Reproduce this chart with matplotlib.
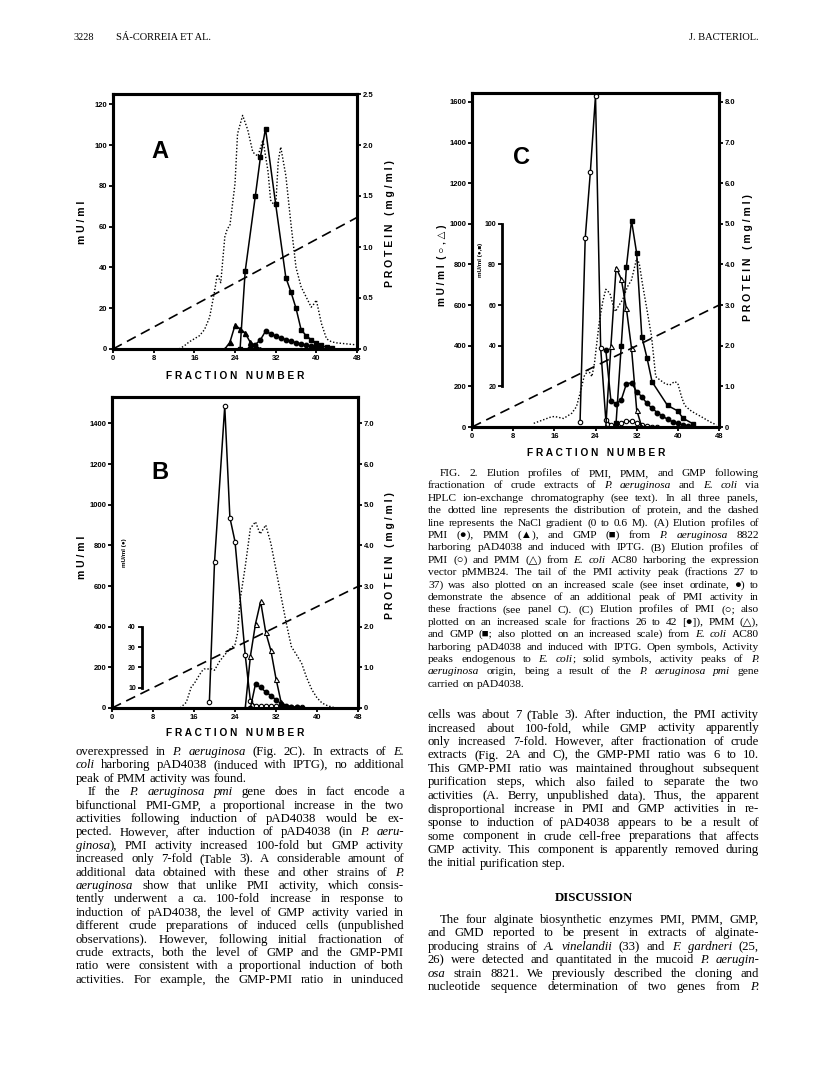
import matplotlib
matplotlib.use("Agg")
import matplotlib.pyplot as plt

W, H = 816, 1078
SANS = ["Liberation Sans", "DejaVu Sans"]
SERIF = ["Liberation Serif", "DejaVu Serif", "DejaVu Sans"]

# ---- panel A : P. aeruginosa 8822 / pAD4038 ----
a_gmp_frac = [25, 26, 28, 29, 30, 32, 34, 35, 36, 37, 38, 39, 40, 41, 42, 43]
a_gmp = [0, 38, 75, 94, 108, 71, 35, 28, 20, 9.5, 6.5, 4.5, 3, 1.8, 0.8, 0.3]
a_pmi_frac = [27, 28, 29, 30, 31, 32, 33, 34, 35, 36, 37, 38, 39, 40, 41]
a_pmi = [0.5, 2.1, 4.5, 8.7, 7.4, 6.4, 5.4, 4.6, 3.8, 3.1, 2.5, 1.8, 1.3, 0.8, 0.3]
a_pmm_frac = [22, 23, 24, 25, 26, 27, 28, 29]
a_pmm = [0, 3.3, 11.6, 9.9, 7.8, 3.3, 1.7, 0]
a_prot_frac = [13, 14, 15, 16, 17, 18, 19, 20, 20.5, 21.2, 22, 22.5, 23, 24, 24.5, 25.5,
               26.5, 27.5, 28.5, 29.5, 30.5, 31, 32, 32.5, 33, 34, 35, 36, 37, 38, 39,
               39.5, 40, 41, 42, 43, 44, 46, 48]
a_prot = [0, 0.03, 0.07, 0.10, 0.13, 0.19, 0.31, 0.57, 0.73, 0.65, 1.10, 1.18, 1.21, 1.62,
          2.11, 2.29, 2.15, 1.93, 1.89, 2.05, 1.74, 1.46, 1.39, 1.84, 1.98, 1.70, 1.23, 0.80,
          0.61, 0.51, 0.41, 0.44, 0.48, 0.25, 0.10, 0.07, 0.06, 0.05, 0.04]
a_grad = [0, 1.29]

# ---- panel B : E. coli AC80 / pMMB24 ----
b_pmi_frac = [19, 20, 22, 23, 24, 26, 27, 28, 29, 30, 31, 32, 33, 34, 35, 36, 37]
b_pmi = [30, 716, 1485, 937, 819, 259, 36, 8, 8, 8, 8, 8, 8, 6, 5, 4, 3]
b_pmm_frac = [26, 27, 28, 29, 30, 31, 32, 33, 34, 35]
b_pmm = [0, 254, 414, 524, 372, 283, 144, 28, 10, 5]
b_pmi10_frac = [27, 28, 29, 30, 31, 32, 33, 34, 35, 36, 37]
b_pmi10 = [0, 118, 101, 79, 61, 40, 22, 12, 6, 3, 1]
b_prot_frac = [13.3, 14.5, 15.5, 16, 16.7, 17.5, 18, 19.5, 20, 21, 22, 23, 24, 24.5, 25, 26,
               27, 28, 28.9, 30, 31, 32, 33, 34, 35, 36, 37, 38, 39, 40, 41, 42, 43, 44]
b_prot = [0, 0.14, 0.53, 0.59, 0.74, 0.90, 0.96, 0.96, 0.93, 1.15, 1.31, 1.45, 1.56, 1.84,
          2.66, 3.48, 4.42, 4.58, 4.28, 4.50, 4.05, 3.40, 2.74, 2.09, 1.51, 1.31, 1.10, 0.74,
          0.45, 0.25, 0.12, 0.06, 0.02, 0]
b_grad = [0, 2.99]

# ---- panel C : E. coli AC80 / pAD4038 ----
c_pmi_frac = [21, 22, 23, 24, 25, 26, 27, 28, 29, 30, 31, 32, 33, 34, 35, 36]
c_pmi = [26, 929, 1255, 1631, 391, 35, 10, 8, 20, 28, 28, 20, 8, 4, 2, 0]
c_pmm_frac = [26, 27, 28, 29, 30, 31, 32, 33]
c_pmm = [0, 400, 784, 729, 584, 387, 84, 0]
c_gmp_frac = [28, 29, 30, 31, 32, 33, 34, 35, 38, 40, 41, 43]
c_gmp = [20, 399, 786, 1016, 855, 445, 341, 222, 106, 79, 43, 15]
c_pmi10_frac = [26, 27, 28, 29, 30, 31, 32, 33, 34, 35, 36, 37, 38, 39, 40, 41, 42]
c_pmi10 = [380, 128, 115, 133, 212, 218, 174, 149, 116, 92, 71, 54, 38, 26, 18, 10, 5]
c_prot_frac = [12, 15.2, 16, 17.8, 19.4, 20.3, 21, 21.8, 22.6, 23.3, 23.8, 24.7, 25.4, 26,
               26.8, 27.5, 27.9, 28.4, 29.3, 30.2, 31, 32, 32.5, 33.1, 33.9, 34.9, 35.7,
               36.5, 37.5, 38.4, 39.4, 40, 40.7, 41.3, 42.3, 43.3, 44.6, 46.2, 47.5]
c_prot = [0.09, 0.24, 0.26, 0.21, 0.34, 0.5, 0.83, 1.25, 1.40, 1.24, 1.57, 2.55, 3.08, 3.39,
          3.29, 2.96, 2.84, 2.96, 3.14, 3.45, 3.62, 4.15, 4.03, 3.54, 2.96, 2.22, 1.24, 1.16,
          1.07, 1.03, 1.12, 1.07, 0.75, 0.54, 0.42, 0.34, 0.25, 0.13, 0.05]
c_grad = [0, 3.0]
grad_frac = [0, 48]

left_ticks_a = [0, 20, 40, 60, 80, 100, 120]
right_ticks_a = [0, 0.5, 1.0, 1.5, 2.0, 2.5]
left_ticks_b = [0, 200, 400, 600, 800, 1000, 1200, 1400]
right_ticks_b = [0, 1, 2, 3, 4, 5, 6, 7]
left_ticks_c = [0, 200, 400, 600, 800, 1000, 1200, 1400, 1600]
right_ticks_c = [0, 1, 2, 3, 4, 5, 6, 7, 8]
inset_ticks_b = [10, 20, 30, 40]
inset_ticks_c = [20, 40, 60, 80, 100]

header_left = ["3228", "SÁ-CORREIA ET AL."]
header_right = "J. BACTERIOL."

left_col = [
    "overexpressed in *P. aeruginosa* (Fig. 2C). In extracts of *E.*",
    "*coli* harboring pAD4038 (induced with IPTG), no additional",
    "peak of PMM activity was found.",
    "If the *P. aeruginosa pmi* gene does in fact encode a",
    "bifunctional PMI-GMP, a proportional increase in the two",
    "activities following induction of pAD4038 would be ex-",
    "pected. However, after induction of pAD4038 (in *P. aeru-*",
    "*ginosa*), PMI activity increased 100-fold but GMP activity",
    "increased only 7-fold (Table 3). A considerable amount of",
    "additional data obtained with these and other strains of *P.*",
    "*aeruginosa* show that unlike PMI activity, which consis-",
    "tently underwent a ca. 100-fold increase in response to",
    "induction of pAD4038, the level of GMP activity varied in",
    "different crude preparations of induced cells (unpublished",
    "observations). However, following initial fractionation of",
    "crude extracts, both the level of GMP and the GMP-PMI",
    "ratio were consistent with a proportional induction of both",
    "activities. For example, the GMP-PMI ratio in uninduced",
]
caption = [
    "FIG. 2. Elution profiles of PMI, PMM, and GMP following",
    "fractionation of crude extracts of *P. aeruginosa* and *E. coli* via",
    "HPLC ion-exchange chromatography (see text). In all three panels,",
    "the dotted line represents the distribution of protein, and the dashed",
    "line represents the NaCl gradient (0 to 0.6 M). (A) Elution profiles of",
    "PMI (●), PMM (▲), and GMP (■) from *P. aeruginosa* 8822",
    "harboring pAD4038 and induced with IPTG. (B) Elution profiles of",
    "PMI (○) and PMM (△) from *E. coli* AC80 harboring the expression",
    "vector pMMB24. The tail of the PMI activity peak (fractions 27 to",
    "37) was also plotted on an increased scale (see inset ordinate, ●) to",
    "demonstrate the absence of an additional peak of PMI activity in",
    "these fractions (see panel C). (C) Elution profiles of PMI (○; also",
    "plotted on an increased scale for fractions 26 to 42 [●]), PMM (△),",
    "and GMP (■; also plotted on an increased scale) from *E. coli* AC80",
    "harboring pAD4038 and induced with IPTG. Open symbols, Activity",
    "peaks endogenous to *E. coli*; solid symbols, activity peaks of *P.*",
    "*aeruginosa* origin, being a result of the *P. aeruginosa pmi* gene",
    "carried on pAD4038.",
]
right_col = [
    "cells was about 7 (Table 3). After induction, the PMI activity",
    "increased about 100-fold, while GMP activity apparently",
    "only increased 7-fold. However, after fractionation of crude",
    "extracts (Fig. 2A and C), the GMP-PMI ratio was 6 to 10.",
    "This GMP-PMI ratio was maintained throughout subsequent",
    "purification steps, which also failed to separate the two",
    "activities (A. Berry, unpublished data). Thus, the apparent",
    "disproportional increase in PMI and GMP activities in re-",
    "sponse to induction of pAD4038 appears to be a result of",
    "some component in crude cell-free preparations that affects",
    "GMP activity. This component is apparently removed during",
    "the initial purification step.",
]
discussion = [
    "The four alginate biosynthetic enzymes PMI, PMM, GMP,",
    "and GMD reported to be present in extracts of alginate-",
    "producing strains of *A. vinelandii* (33) and *F. gardneri* (25,",
    "26) were detected and quantitated in the mucoid *P. aerugin-*",
    "*osa* strain 8821. We previously described the cloning and",
    "nucleotide sequence determination of two genes from *P.*",
]

fig = plt.figure(figsize=(W / 100, H / 100), dpi=100)
renderer = fig.canvas.get_renderer()


def ptext(x, y, s, **kw):
    return fig.text(x / W, 1 - y / H, s, **kw)


def split_words(line):
    italic = False
    words = []
    for w in line.split():
        segs = []
        for i, part in enumerate(w.split("*")):
            if i > 0:
                italic = not italic
            if part:
                segs.append((part, italic))
        words.append(segs)
    return words


def seg_width(part, it, size):
    t = ptext(0, 0, part, family=SERIF, size=size, style="italic" if it else "normal")
    wd = t.get_window_extent(renderer).width
    t.remove()
    return wd


def natural_width(line, size):
    words = split_words(line)
    tot = sum(seg_width(p, it, size) for segs in words for p, it in segs)
    return tot + (len(words) - 1) * size * 100 / 72 * 0.25


def fit_size(lines, widths):
    # largest size at which every justified line still fits its measure
    return min(10 * w / natural_width(l, 10) for l, w in zip(lines, widths))


def put_line(x0, x1, y, line, size, justify=True):
    words = split_words(line)
    objs, widths = [], []
    for segs in words:
        row, tot = [], 0
        for part, it in segs:
            t = ptext(0, y, part, family=SERIF, size=size,
                      style="italic" if it else "normal", va="baseline")
            wd = t.get_window_extent(renderer).width
            row.append((t, wd))
            tot += wd
        objs.append(row)
        widths.append(tot)
    gap = size * 100 / 72 * 0.25
    if justify and len(words) > 1:
        gap = (x1 - x0 - sum(widths)) / (len(words) - 1)
    x = x0
    for row, wd in zip(objs, widths):
        xx = x
        for t, sw in row:
            t.set_position((xx / W, 1 - y / H))
            xx += sw
        x += wd + gap


def panel(box, ymax, rmax, lt, rt, rlab):
    l, t, r, b = box
    ax = fig.add_axes([l / W, 1 - b / H, (r - l) / W, (b - t) / H])
    ax2 = ax.twinx()
    ax.set_xlim(0, 48)
    ax.set_ylim(0, ymax)
    ax2.set_ylim(0, rmax)
    ax.set_xticks(range(0, 49, 8))
    ax.set_yticks(lt)
    ax2.set_yticks(rt)
    ax2.set_yticklabels(rlab)
    for a in (ax, ax2):
        for s in a.spines.values():
            s.set_linewidth(2.2)
        a.tick_params(direction="out", length=3, width=1.3, labelsize=5.5, pad=1)
        for lab in a.get_xticklabels() + a.get_yticklabels():
            lab.set_fontweight("bold")
            lab.set_family(SANS)
    return ax, ax2


def inset_axis(ax, ticks, label):
    sec = ax.secondary_yaxis(0.12, functions=(lambda v: v / 10, lambda v: v * 10))
    sec.set_yticks(ticks)
    sec.spines["left"].set_bounds(ticks[0], ticks[-1])
    sec.spines["left"].set_linewidth(2.0)
    sec.tick_params(direction="out", length=3, width=1.3, labelsize=5, pad=1)
    for lab in sec.get_yticklabels():
        lab.set_fontweight("bold")
        lab.set_family(SANS)
    sec.set_ylabel(label, fontsize=4.5, fontweight="bold", family=SANS, labelpad=1)
    return sec


LW = 1.1
closed = dict(color="black", lw=LW, marker="o", ms=3.2, mfc="black", mec="black")
opencirc = dict(color="black", lw=LW, marker="o", ms=3.2, mfc="white", mec="black", mew=0.8)
closed_tri = dict(color="black", lw=LW, marker="^", ms=3.6, mfc="black", mec="black")
open_tri = dict(color="black", lw=LW, marker="^", ms=3.6, mfc="white", mec="black", mew=0.8)
closed_sq = dict(color="black", lw=LW, marker="s", ms=3.2, mfc="black", mec="black")
dotted = dict(color="black", lw=1.0, ls=(0, (1, 1.4)))
dashed = dict(color="black", lw=1.2, ls=(0, (6, 3.5)))

# Panel A
ax, ax2 = panel((113, 94, 357, 349), 125, 2.5, left_ticks_a, right_ticks_a,
                ["0", "0.5", "1.0", "1.5", "2.0", "2.5"])
ax2.plot(a_prot_frac, a_prot, **dotted)
ax2.plot(grad_frac, a_grad, **dashed)
ax.plot(a_pmm_frac, a_pmm, **closed_tri)
ax.plot(a_pmi_frac, a_pmi, **closed)
ax.plot(a_gmp_frac, a_gmp, **closed_sq)

# Panel B
ax, ax2 = panel((112, 397, 358, 708), 1530, 7.65, left_ticks_b, right_ticks_b,
                ["0"] + ["%d.0" % v for v in right_ticks_b[1:]])
ax2.plot(b_prot_frac, b_prot, **dotted)
ax2.plot(grad_frac, b_grad, **dashed)
ax.plot(b_pmi_frac, b_pmi, **opencirc)
ax.plot(b_pmm_frac, b_pmm, **open_tri)
ax.plot(b_pmi10_frac, b_pmi10, **closed)
inset_axis(ax, inset_ticks_b, "mU/ml (●)")

# Panel C
ax, ax2 = panel((472, 93, 719, 427), 1644, 8.22, left_ticks_c, right_ticks_c,
                ["0"] + ["%d.0" % v for v in right_ticks_c[1:]])
ax2.plot(c_prot_frac, c_prot, **dotted)
ax2.plot(grad_frac, c_grad, **dashed)
ax.plot(c_pmi_frac, c_pmi, **opencirc)
ax.plot(c_pmm_frac, c_pmm, **open_tri)
ax.plot(c_gmp_frac, c_gmp, **closed_sq)
ax.plot(c_pmi10_frac, c_pmi10, **closed)
inset_axis(ax, inset_ticks_c, "mU/ml (●,■)")

# axis titles and panel letters
lab = dict(family=SANS, fontweight="bold", ha="center", va="center")
ptext(160, 152, "A", size=17, **lab)
ptext(160, 472, "B", size=17, **lab)
ptext(522, 157, "C", size=17, **lab)
ptext(82, 222, "m U / m l", size=7.5, rotation=90, **lab)
ptext(82, 557, "m U / m l", size=7.5, rotation=90, **lab)
ptext(442, 265, "m U / m l  ( ○ , △ )", size=7.2, rotation=90, **lab)
for x, y in [(390, 224), (390, 556), (748, 258)]:
    ptext(x, y, "P R O T E I N   ( m g / m l )", size=7.5, rotation=90, **lab)
for x, y in [(235, 376), (235, 733), (596, 453)]:
    ptext(x, y, "F R A C T I O N   N U M B E R", size=7.3, **lab)

# running head
ptext(74, 40, header_left[0], size=7.5, family=SERIF, va="baseline")
ptext(116, 40, header_left[1], size=7.5, family=SERIF, va="baseline")
ptext(759, 40, header_right, size=7.5, family=SERIF, va="baseline", ha="right")

# text block geometry (pixels)
LX0, LX1 = 76, 404
RX0, RX1 = 428, 759
PAR = 12

body_lines, body_w = [], []
for i, line in enumerate(left_col):
    if i != 2:
        body_lines.append(line)
        body_w.append(LX1 - LX0 - (PAR if i == 3 else 0))
for i, line in enumerate(right_col[:-1] + discussion):
    body_lines.append(line)
    body_w.append(RX1 - RX0 - (PAR if i == len(right_col) - 1 else 0))
body_size = min(fit_size(body_lines, body_w), 9.2)
cap_size = min(fit_size(caption[:-1], [RX1 - RX0 - PAR] + [RX1 - RX0] * 16), 8.2)

for i, line in enumerate(left_col):
    x0 = LX0 + PAR if i == 3 else LX0
    put_line(x0, LX1, 755 + 13.4 * i, line, body_size, justify=(i != 2))

for i, line in enumerate(caption):
    x0 = RX0 + PAR if i == 0 else RX0
    put_line(x0, RX1, 476 + 12.4 * i, line, cap_size, justify=(i != len(caption) - 1))

for i, line in enumerate(right_col):
    put_line(RX0, RX1, 718 + 13.5 * i, line, body_size, justify=(i != len(right_col) - 1))
ptext((RX0 + RX1) / 2, 901, "DISCUSSION", size=body_size, family=SERIF,
      fontweight="bold", ha="center", va="baseline")
for i, line in enumerate(discussion):
    x0 = RX0 + PAR if i == 0 else RX0
    put_line(x0, RX1, 923 + 13.4 * i, line, body_size, justify=True)

fig.savefig("out.png", dpi=100)
